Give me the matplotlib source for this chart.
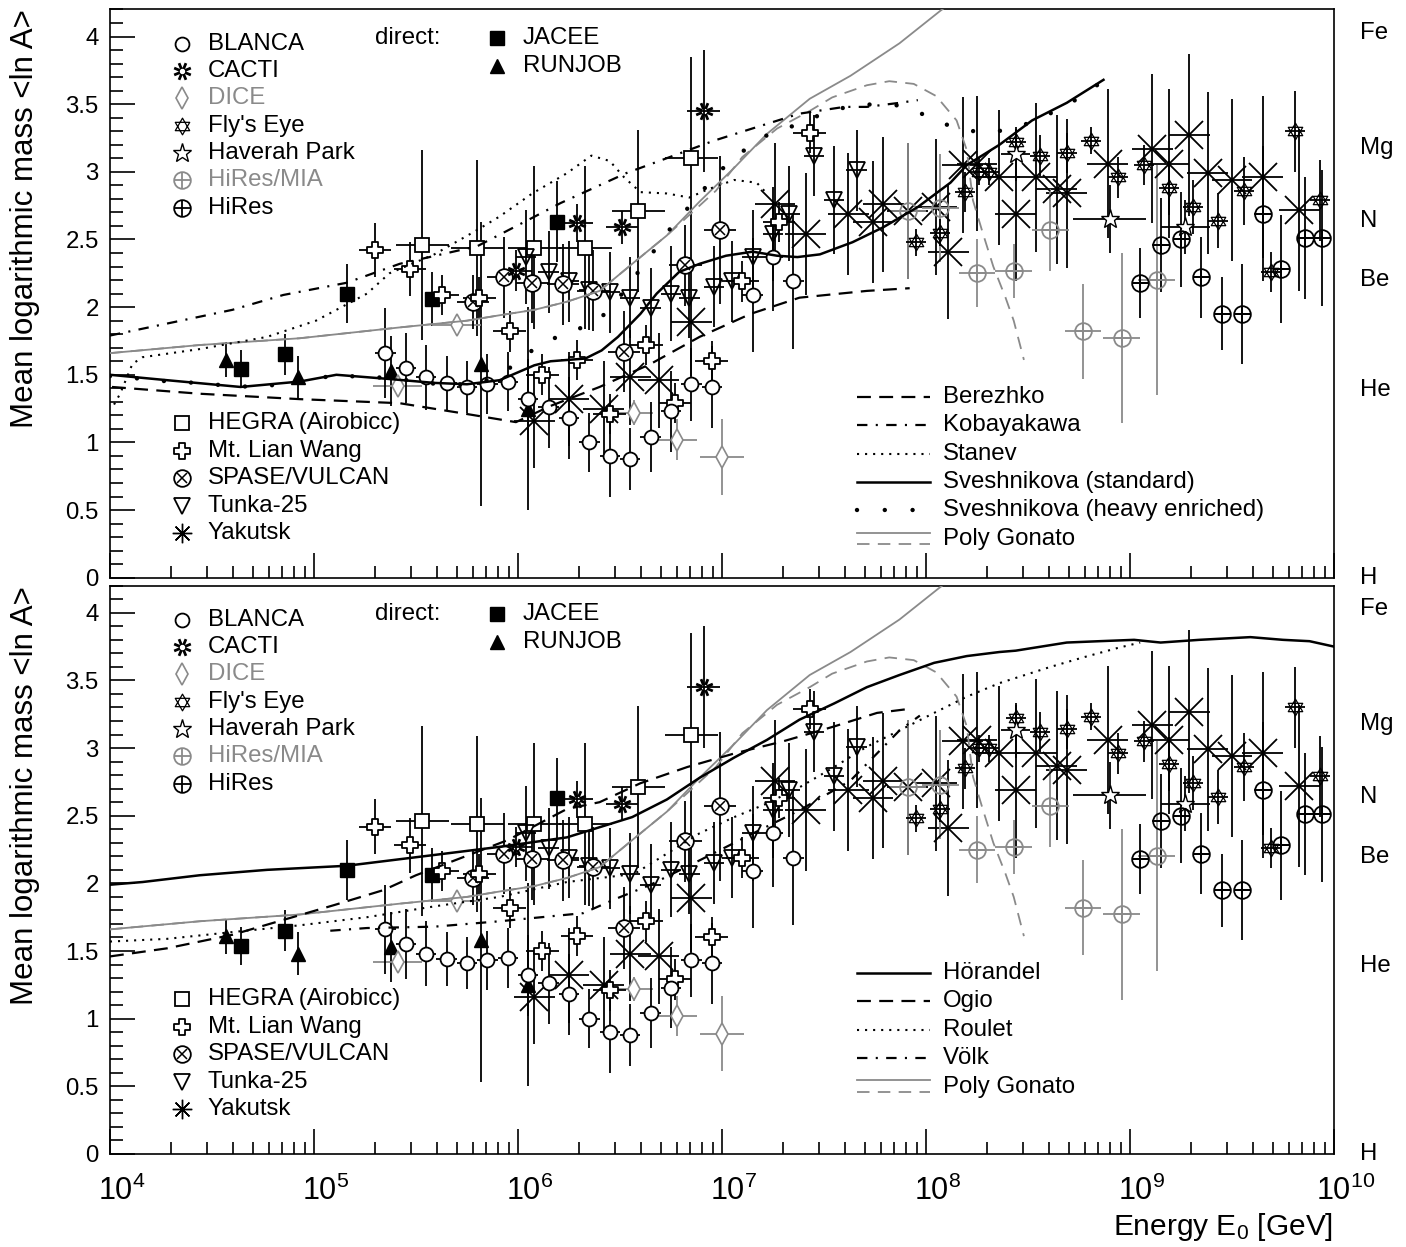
import numpy as np
import matplotlib
matplotlib.use('Agg')
import matplotlib.pyplot as plt
from matplotlib.path import Path
from matplotlib.transforms import offset_copy
from matplotlib.ticker import FixedLocator, FixedFormatter, MultipleLocator, NullFormatter

plt.rcParams['font.family'] = ['Liberation Sans', 'DejaVu Sans']
plt.rcParams['mathtext.fontset'] = 'custom'
plt.rcParams['mathtext.rm'] = 'Liberation Sans'
plt.rcParams['mathtext.it'] = 'Liberation Sans:italic'
plt.rcParams['lines.scale_dashes'] = False

GRAY = '#8a8a8a'
FS = 17.3

# ---------------- measurements (log10 E/GeV, <ln A>, error, x-error in decades) ----------------
blanca_e = [5.35, 5.45, 5.55, 5.65, 5.75, 5.85, 5.95, 6.05, 6.15, 6.25, 6.35, 6.45, 6.55, 6.65,
            6.75, 6.85, 6.95, 7.15, 7.25, 7.35]
blanca_a = [1.66, 1.55, 1.48, 1.44, 1.41, 1.43, 1.45, 1.32, 1.26, 1.18, 1.00, 0.90, 0.88, 1.04,
            1.23, 1.43, 1.41, 2.09, 2.37, 2.19]
blanca_err = [0.33, 0.26, 0.24, 0.2, 0.19, 0.22, 0.22, 0.3, 0.3, 0.3, 0.22, 0.3, 0.23, 0.26,
              0.3, 0.27, 0.3, 0.42, 0.4, 0.5]

cacti_e = [5.99, 6.29, 6.51, 6.91]
cacti_a = [2.27, 2.62, 2.59, 3.45]
cacti_err = [0.15, 0.14, 0.12, 0.45]

dice_e = [5.41, 5.70, 6.57, 6.78, 7.00]
dice_a = [1.42, 1.87, 1.22, 1.02, 0.89]
dice_err = [0.05, 0.05, 0.09, 0.15, 0.28]
dice_xerr = [0.12, 0.12, 0.09, 0.10, 0.11]

flys_e = [7.95, 8.07, 8.19, 8.26, 8.31, 8.44, 8.56, 8.69, 8.81, 8.94, 9.07, 9.19, 9.31, 9.43,
          9.56, 9.69, 9.81, 9.93]
flys_a = [2.48, 2.55, 2.85, 3.00, 3.00, 3.22, 3.12, 3.14, 3.23, 2.96, 3.05, 2.88, 2.74, 2.64,
          2.86, 2.26, 3.30, 2.79]
flys_err = [0.1, 0.1, 0.15, 0.1, 0.1, 0.1, 0.15, 0.15, 0.1, 0.15, 0.15, 0.2, 0.2, 0.2,
            0.25, 0.15, 0.3, 0.3]

haverah_e = [8.44, 8.90, 9.27]
haverah_a = [3.13, 2.65, 2.59]
haverah_err = [0.2, 0.25, 0.2]
haverah_xerr = [0.07, 0.18, 0.12]

hiresmia_e = [7.91, 8.07, 8.25, 8.43, 8.61, 8.77, 8.96, 9.13]
hiresmia_a = [2.71, 2.73, 2.25, 2.27, 2.57, 1.82, 1.77, 2.20]
hiresmia_err = [0.5, 0.4, 0.25, 0.2, 0.3, 0.35, 0.63, 0.85]

hires_e = [9.05, 9.15, 9.25, 9.35, 9.45, 9.55, 9.65, 9.74, 9.86, 9.94]
hires_a = [2.18, 2.46, 2.50, 2.22, 1.95, 1.95, 2.69, 2.28, 2.51, 2.51]
hires_err = [0.26, 0.35, 0.35, 0.3, 0.27, 0.37, 0.5, 0.4, 0.45, 0.5]

hegra_e = [5.53, 5.80, 6.08, 6.33, 6.59, 6.85]
hegra_a = [2.46, 2.44, 2.44, 2.44, 2.71, 3.10]
hegra_err = [0.7, 0.65, 0.6, 0.6, 0.6, 0.75]

lian_e = [5.30, 5.47, 5.63, 5.81, 5.96, 6.12, 6.29, 6.45, 6.63, 6.77, 6.95, 7.10, 7.28, 7.43]
lian_a = [2.42, 2.28, 2.09, 2.07, 1.82, 1.50, 1.61, 1.21, 1.72, 1.29, 1.60, 2.19, 2.63, 3.29]
lian_err = [0.2, 0.2, 0.15, 0.15, 0.15, 0.15, 0.15, 0.15, 0.15, 0.15, 0.15, 0.15, 0.15, 0.15]

spase_e = [5.78, 5.93, 6.07, 6.22, 6.37, 6.52, 6.82, 6.99]
spase_a = [2.04, 2.22, 2.18, 2.17, 2.12, 1.67, 2.31, 2.57]
spase_err = [0.2, 0.3, 0.3, 0.3, 0.3, 0.3, 0.3, 0.55]

tunka_e = [6.04, 6.15, 6.25, 6.35, 6.45, 6.55, 6.65, 6.75, 6.84, 6.96, 7.05, 7.15, 7.25,
           7.33, 7.45, 7.55, 7.66]
tunka_a = [2.37, 2.26, 2.19, 2.13, 2.11, 2.07, 1.99, 2.10, 2.07, 2.15, 2.19, 2.37, 2.54,
           2.69, 3.12, 2.79, 3.01]
tunka_err = [0.35, 0.3, 0.3, 0.3, 0.3, 0.3, 0.3, 0.35, 0.3, 0.3, 0.3, 0.35, 0.35,
             0.35, 0.3, 0.4, 0.3]

yak_e = [6.08, 6.25, 6.42, 6.55, 6.69, 6.85, 7.26, 7.41, 7.62, 7.74, 7.79, 7.91, 8.05, 8.11,
         8.18, 8.25, 8.36, 8.44, 8.54, 8.64, 8.69, 8.89, 9.11, 9.19, 9.29, 9.38, 9.50, 9.65, 9.83]
yak_a = [1.16, 1.32, 1.25, 1.48, 1.46, 1.89, 2.76, 2.54, 2.69, 2.63, 2.76, 2.71, 2.74, 2.41,
         3.05, 3.06, 2.96, 2.69, 2.96, 2.87, 2.84, 3.06, 3.17, 3.06, 3.27, 2.99, 2.94, 2.96, 2.72]
yak_err = [0.35, 0.35, 0.35, 0.35, 0.35, 0.4, 0.45, 0.45, 0.45, 0.45, 0.5, 0.5, 0.5, 0.5,
           0.5, 0.5, 0.5, 0.5, 0.55, 0.55, 0.55, 0.55, 0.55, 0.55, 0.6, 0.6, 0.6, 0.6, 0.6]

jacee_e = [4.64, 4.86, 5.16, 5.58, 6.19]
jacee_a = [1.54, 1.65, 2.10, 2.06, 2.63]
jacee_err = [0.14, 0.15, 0.22, 0.2, 0.3]

runjob_e = [4.57, 4.92, 5.38, 5.82, 6.05]
runjob_a = [1.61, 1.48, 1.53, 1.58, 1.25]
runjob_err = [0.13, 0.16, 0.26, 1.05, 0.75]

# ---------------- model curves ----------------
berezhko_e = [4.01, 4.44, 4.93, 5.42, 5.75, 5.99, 6.16, 6.40, 6.65, 6.89, 7.14, 7.38, 7.71, 7.92]
berezhko_a = [1.41, 1.36, 1.32, 1.29, 1.21, 1.15, 1.27, 1.41, 1.58, 1.78, 1.95, 2.07, 2.12, 2.14]

koba_e = [4.00, 4.60, 4.85, 5.16, 5.42, 5.80, 6.07, 6.21, 6.37, 6.53, 6.71, 6.96, 7.19, 7.38,
          7.60, 7.71, 7.87, 7.96]
koba_a = [1.79, 1.98, 2.09, 2.18, 2.32, 2.45, 2.66, 2.77, 2.88, 2.99, 3.09, 3.23, 3.34, 3.43,
          3.48, 3.48, 3.51, 3.53]

stanev_e = [4.02, 4.05, 4.11, 4.16, 4.44, 4.77, 5.01, 5.26, 5.37, 5.59, 5.80, 5.91, 6.07, 6.24,
            6.36, 6.45, 6.52, 6.60, 6.73, 6.84, 6.93, 7.06, 7.17, 7.22]
stanev_a = [1.28, 1.36, 1.58, 1.63, 1.69, 1.78, 1.90, 2.10, 2.25, 2.39, 2.57, 2.67, 2.84, 2.99,
            3.12, 3.08, 2.96, 2.85, 2.84, 2.81, 2.87, 2.94, 2.92, 2.84]

svstd_e = [4.00, 4.28, 4.64, 4.93, 5.11, 5.36, 5.59, 5.75, 5.91, 6.08, 6.16, 6.33, 6.41, 6.49,
           6.60, 6.68, 6.79, 6.89, 7.02, 7.15, 7.27, 7.37, 7.48, 7.64, 7.79, 7.96, 8.12, 8.20,
           8.36, 8.52, 8.69, 8.87]
svstd_a = [1.50, 1.46, 1.41, 1.45, 1.50, 1.47, 1.44, 1.43, 1.46, 1.57, 1.60, 1.62, 1.68, 1.78,
           1.95, 2.10, 2.26, 2.32, 2.38, 2.41, 2.38, 2.37, 2.39, 2.48, 2.59, 2.74, 2.92, 3.05,
           3.20, 3.38, 3.51, 3.68]

svheavy_e = [4.00, 4.16, 4.29, 4.43, 4.57, 4.71, 4.84, 4.98, 5.11, 5.25, 5.39, 5.52, 5.65, 5.79,
             5.92, 6.03, 6.14, 6.27, 6.40, 6.49, 6.57, 6.65, 6.73, 6.82, 6.91, 7.00, 7.10, 7.22,
             7.35, 7.48, 7.61, 7.74, 7.88, 8.01, 8.13, 8.27, 8.41, 8.54, 8.66, 8.79, 8.87]
svheavy_a = [1.49, 1.47, 1.45, 1.44, 1.42, 1.41, 1.43, 1.46, 1.50, 1.48, 1.48, 1.44, 1.43, 1.43,
             1.50, 1.64, 1.75, 1.82, 1.91, 2.06, 2.22, 2.38, 2.55, 2.71, 2.87, 3.02, 3.15, 3.27,
             3.34, 3.42, 3.48, 3.50, 3.49, 3.41, 3.33, 3.29, 3.31, 3.38, 3.47, 3.58, 3.68]

poly_e = [4.00, 4.44, 4.93, 5.42, 5.75, 5.91, 6.08, 6.24, 6.40, 6.56, 6.73, 6.89, 7.06, 7.22,
          7.43, 7.63, 7.87, 8.07, 8.17]
poly_a = [1.66, 1.72, 1.77, 1.85, 1.90, 1.94, 1.98, 2.04, 2.12, 2.32, 2.53, 2.78, 3.03, 3.28,
          3.54, 3.71, 3.95, 4.19, 4.30]

polyd_e = [4.00, 4.44, 4.93, 5.42, 5.75, 5.91, 6.08, 6.24, 6.40, 6.56, 6.73, 6.97, 7.10, 7.27,
           7.43, 7.54, 7.71, 7.82, 7.94, 8.05, 8.15, 8.20, 8.23, 8.28, 8.33, 8.39, 8.43, 8.48]
polyd_a = [1.66, 1.72, 1.77, 1.85, 1.90, 1.94, 1.98, 2.04, 2.12, 2.32, 2.53, 2.86, 3.11, 3.32,
           3.45, 3.55, 3.64, 3.67, 3.65, 3.56, 3.38, 3.16, 2.79, 2.54, 2.30, 2.07, 1.90, 1.61]

horandel_e = [4.00, 4.16, 4.44, 4.77, 5.16, 5.59, 5.91, 6.24, 6.56, 6.73, 6.89, 7.06, 7.22, 7.38,
              7.55, 7.71, 7.87, 8.04, 8.20, 8.36, 8.44, 8.69, 8.85, 9.02, 9.15, 9.34, 9.59, 9.75,
              9.88, 10.0]
horandel_a = [1.99, 2.01, 2.06, 2.10, 2.13, 2.21, 2.27, 2.34, 2.49, 2.62, 2.78, 2.93, 3.06, 3.21,
              3.33, 3.45, 3.54, 3.63, 3.68, 3.71, 3.72, 3.78, 3.79, 3.80, 3.78, 3.80, 3.82, 3.80,
              3.79, 3.75]

ogio_e = [4.00, 4.28, 4.60, 4.85, 5.10, 5.34, 5.50, 5.95, 6.24, 6.40, 6.60, 6.83, 7.06, 7.30,
          7.55, 7.76, 7.92]
ogio_a = [1.46, 1.52, 1.62, 1.73, 1.84, 1.95, 2.06, 2.32, 2.55, 2.60, 2.74, 2.86, 2.96, 3.05,
          3.16, 3.26, 3.29]

roulet_e = [4.00, 4.28, 4.60, 4.93, 5.26, 5.59, 5.91, 6.24, 6.57, 6.73, 6.89, 7.06, 7.22, 7.38,
            7.55, 7.71, 7.87, 8.04, 8.20, 8.36, 8.61, 8.77, 8.94, 9.05]
roulet_a = [1.57, 1.59, 1.64, 1.69, 1.75, 1.83, 1.90, 2.01, 2.07, 2.22, 2.37, 2.49, 2.59, 2.71,
            2.86, 3.01, 3.13, 3.26, 3.38, 3.48, 3.60, 3.67, 3.74, 3.78]

volk_e = [5.08, 5.26, 5.59, 5.91, 6.32, 6.47, 6.65, 6.89, 7.14, 7.38, 7.63, 7.87, 7.97]
volk_a = [1.65, 1.67, 1.68, 1.72, 1.78, 1.88, 1.99, 2.17, 2.36, 2.54, 2.76, 3.13, 3.24]

# element marks on the right side
elem_names = ['Fe', 'Mg', 'N', 'Be', 'He', 'H']
elem_lnA = [4.025, 3.178, 2.639, 2.197, 1.386, 0.0]

# ---------------- markers ----------------
star_david = Path([(0, 1), (0.866, -0.5), (-0.866, -0.5), (0, 1),
                   (0, -1), (0.866, 0.5), (-0.866, 0.5), (0, -1)],
                  [Path.MOVETO, Path.LINETO, Path.LINETO, Path.CLOSEPOLY,
                   Path.MOVETO, Path.LINETO, Path.LINETO, Path.CLOSEPOLY])
w = 0.33
open_cross = Path([(-w, 1), (w, 1), (w, w), (1, w), (1, -w), (w, -w), (w, -1), (-w, -1),
                   (-w, -w), (-1, -w), (-1, w), (-w, w), (-w, 1)], closed=True)
ang = np.deg2rad(np.arange(0, 360, 45) + 22.5)
open_ast = Path([p for a in ang for p in ((0.3 * np.cos(a), 0.3 * np.sin(a)), (np.cos(a), np.sin(a)))],
                [Path.MOVETO, Path.LINETO] * len(ang))


def errs(logE, dex):
    logE = np.asarray(logE, float)
    dex = np.broadcast_to(np.asarray(dex, float), logE.shape)
    E = 10.0 ** logE
    return E, [E - 10.0 ** (logE - dex), 10.0 ** (logE + dex) - E]


def put(ax, logE, lnA, yerr, dex, color, markers):
    E, xerr = errs(logE, dex)
    ax.errorbar(E, lnA, yerr=yerr, xerr=xerr, fmt='none', ecolor=color,
                elinewidth=1.3, capsize=0, zorder=3)
    for m in markers:
        ax.plot(E, lnA, ls='none', color=color, zorder=4, **m)


M_BLANCA = [dict(marker='o', ms=10, mfc='white', mec='k', mew=1.3)]
M_CACTI = [dict(marker=open_ast, ms=12, mec='k', mew=2.0)]
M_DICE = [dict(marker='d', ms=11, mfc='white', mec=GRAY, mew=1.2)]
M_FLY = [dict(marker=star_david, ms=12, mfc='none', mec='k', mew=0.9)]
M_HAV = [dict(marker='*', ms=14, mfc='white', mec='k', mew=1.0)]
M_HMIA = [dict(marker='o', ms=12, mfc='none', mec=GRAY, mew=1.3),
          dict(marker='+', ms=12, mec=GRAY, mew=1.3)]
M_HIRES = [dict(marker='o', ms=12, mfc='none', mec='k', mew=1.3),
           dict(marker='+', ms=12, mec='k', mew=1.3)]
M_HEGRA = [dict(marker='s', ms=10, mfc='white', mec='k', mew=1.3)]
M_LIAN = [dict(marker=open_cross, ms=11, mfc='white', mec='k', mew=1.3)]
M_SPASE = [dict(marker='o', ms=12, mfc='white', mec='k', mew=1.3),
           dict(marker='x', ms=7, mec='k', mew=1.1)]
M_TUNKA = [dict(marker='v', ms=11, mfc='none', mec='k', mew=1.3)]
M_YAK = [dict(marker='x', ms=20, mec='k', mew=1.3)]
M_YAK_LEG = [dict(marker=(8, 2, 0), ms=14, mec='k', mew=1.0)]
M_JACEE = [dict(marker='s', ms=10, mfc='k', mec='k')]
M_RUNJOB = [dict(marker='^', ms=10, mfc='k', mec='k')]


def draw_data(ax):
    put(ax, runjob_e, runjob_a, runjob_err, 0.0, 'k', M_RUNJOB)
    put(ax, jacee_e, jacee_a, jacee_err, 0.0, 'k', M_JACEE)
    put(ax, hegra_e, hegra_a, hegra_err, 0.13, 'k', M_HEGRA)
    put(ax, yak_e, yak_a, yak_err, 0.1, 'k', M_YAK)
    put(ax, dice_e, dice_a, dice_err, dice_xerr, GRAY, M_DICE)
    put(ax, hiresmia_e, hiresmia_a, hiresmia_err, 0.09, GRAY, M_HMIA)
    put(ax, tunka_e, tunka_a, tunka_err, 0.05, 'k', M_TUNKA)
    put(ax, spase_e, spase_a, spase_err, 0.08, 'k', M_SPASE)
    put(ax, lian_e, lian_a, lian_err, 0.08, 'k', M_LIAN)
    put(ax, blanca_e, blanca_a, blanca_err, 0.05, 'k', M_BLANCA)
    put(ax, cacti_e, cacti_a, cacti_err, 0.08, 'k', M_CACTI)
    put(ax, flys_e, flys_a, flys_err, 0.05, 'k', M_FLY)
    put(ax, haverah_e, haverah_a, haverah_err, haverah_xerr, 'k', M_HAV)
    put(ax, hires_e, hires_a, hires_err, 0.04, 'k', M_HIRES)


def legend_entry(ax, x, y, markers, text, color='k'):
    for m in markers:
        ax.plot([x], [y], ls='none', transform=ax.transAxes, clip_on=False, zorder=6, **m)
    ax.text(x + 0.0212, y, text, transform=ax.transAxes, ha='left', va='center',
            fontsize=FS, color=color, zorder=6)


def draw_point_legend(ax):
    xm = 0.0588
    top = [(M_BLANCA, 'BLANCA', 'k'), (M_CACTI, 'CACTI', 'k'), (M_DICE, 'DICE', GRAY),
           (M_FLY, "Fly's Eye", 'k'), (M_HAV, 'Haverah Park', 'k'),
           (M_HMIA, 'HiRes/MIA', GRAY), (M_HIRES, 'HiRes', 'k')]
    for i, (m, t, c) in enumerate(top):
        legend_entry(ax, xm, 0.940 - 0.0481 * i, m, t, c)
    low = [(M_HEGRA, 'HEGRA (Airobicc)'), (M_LIAN, 'Mt. Lian Wang'), (M_SPASE, 'SPASE/VULCAN'),
           (M_TUNKA, 'Tunka-25'), (M_YAK_LEG, 'Yakutsk')]
    for i, (m, t) in enumerate(low):
        legend_entry(ax, xm, 0.272 - 0.0483 * i, m, t)
    ax.text(0.2165, 0.950, 'direct:', transform=ax.transAxes, ha='left', va='center', fontsize=FS)
    legend_entry(ax, 0.316, 0.950, M_JACEE, 'JACEE')
    legend_entry(ax, 0.316, 0.901, M_RUNJOB, 'RUNJOB')


def line_legend(ax, entries):
    x0, x1, xt = 0.610, 0.670, 0.6806
    for i, (styles, text) in enumerate(entries):
        y = 0.3186 - 0.05 * i
        if len(styles) == 1:
            ax.plot([x0, x1], [y, y], transform=ax.transAxes, clip_on=False, **styles[0])
        else:
            ax.plot([x0, x1], [y + 0.011, y + 0.011], transform=ax.transAxes, clip_on=False, **styles[0])
            ax.plot([x0, x1], [y - 0.010, y - 0.010], transform=ax.transAxes, clip_on=False, **styles[1])
        ax.text(xt, y, text, transform=ax.transAxes, ha='left', va='center', fontsize=FS)


S_DASH = dict(color='k', lw=1.6, ls=(0, (10, 6)))
S_DASHDOT = dict(color='k', lw=1.6, ls=(0, (7.5, 6, 1.5, 6)))
S_DOT = dict(color='k', lw=1.5, ls=(0, (1.5, 4.3)))
S_SOLID = dict(color='k', lw=1.8, ls='-')
S_HEAVY = dict(color='k', lw=3.2, ls=(0, (0.01, 19.5)), dash_capstyle='round')
S_POLY = dict(color=GRAY, lw=1.3, ls='-')
S_POLYD = dict(color=GRAY, lw=1.3, ls=(0, (9, 6)))


def curve(ax, e, a, style):
    ax.plot(10.0 ** np.asarray(e), a, zorder=5, **style)


def setup(ax, xlabels):
    ax.set_xscale('log')
    ax.set_xlim(1e4, 1e10)
    ax.set_ylim(0, 4.2)
    for s in ax.spines.values():
        s.set_linewidth(1.2)
    ax.xaxis.set_major_locator(FixedLocator([10.0 ** k for k in range(4, 11)]))
    ax.xaxis.set_minor_locator(FixedLocator([m * 10.0 ** k for k in range(4, 10) for m in range(2, 10)]))
    ax.xaxis.set_minor_formatter(NullFormatter())
    ax.xaxis.set_major_formatter(NullFormatter())
    ax.yaxis.set_major_locator(FixedLocator([0, 0.5, 1, 1.5, 2, 2.5, 3, 3.5, 4]))
    ax.yaxis.set_major_formatter(FixedFormatter(['0', '0.5', '1', '1.5', '2', '2.5', '3', '3.5', '4']))
    ax.yaxis.set_minor_locator(MultipleLocator(0.1))
    ax.tick_params(which='both', direction='in', top=False, right=False, width=1.2)
    ax.tick_params(which='major', length=18)
    ax.tick_params(which='minor', length=9)
    ax.tick_params(axis='y', labelsize=FS, pad=8)
    if xlabels:
        tr = offset_copy(ax.get_xaxis_transform(), fig=ax.figure, x=12, y=-22, units='dots')
        for k in range(4, 11):
            ax.text(10.0 ** k, 0, r'$\mathregular{10^{%d}}$' % k, transform=tr,
                    ha='center', va='top', fontsize=22)
    ax.text(-0.0694, 1.0, 'Mean logarithmic mass <ln A>', transform=ax.transAxes, rotation=90,
            rotation_mode='anchor', ha='right', va='center', fontsize=22.5)
    tr = ax.get_yaxis_transform()
    for name, v in zip(elem_names, elem_lnA):
        ax.text(1.021, v, name, transform=tr, ha='left', va='center', fontsize=FS, clip_on=False)


fig = plt.figure(figsize=(14.06, 12.47), dpi=100)
ax1 = fig.add_axes([0.0782, 0.5367, 0.8706, 0.4557])
ax2 = fig.add_axes([0.0782, 0.0746, 0.8706, 0.4557])

setup(ax1, False)
setup(ax2, True)

for ax in (ax1, ax2):
    draw_data(ax)
    draw_point_legend(ax)
    curve(ax, poly_e, poly_a, S_POLY)
    curve(ax, polyd_e, polyd_a, S_POLYD)

curve(ax1, berezhko_e, berezhko_a, S_DASH)
curve(ax1, koba_e, koba_a, S_DASHDOT)
curve(ax1, stanev_e, stanev_a, S_DOT)
curve(ax1, svstd_e, svstd_a, S_SOLID)
curve(ax1, svheavy_e, svheavy_a, S_HEAVY)
line_legend(ax1, [([S_DASH], 'Berezhko'), ([S_DASHDOT], 'Kobayakawa'), ([S_DOT], 'Stanev'),
                  ([S_SOLID], 'Sveshnikova (standard)'),
                  ([dict(S_HEAVY, ls=(0, (0.01, 20)))], 'Sveshnikova (heavy enriched)'),
                  ([S_POLY, S_POLYD], 'Poly Gonato')])

curve(ax2, horandel_e, horandel_a, S_SOLID)
curve(ax2, ogio_e, ogio_a, S_DASH)
curve(ax2, roulet_e, roulet_a, S_DOT)
curve(ax2, volk_e, volk_a, S_DASHDOT)
line_legend(ax2, [([S_SOLID], 'Hörandel'), ([S_DASH], 'Ogio'), ([S_DOT], 'Roulet'),
                  ([S_DASHDOT], 'Völk'), ([S_POLY, S_POLYD], 'Poly Gonato')])

fig.text(0.948, 0.0160, r'Energy E$_{\mathregular{0}}$ [GeV]', ha='right', va='center', fontsize=21.5)

fig.savefig('out.png', dpi=100)
